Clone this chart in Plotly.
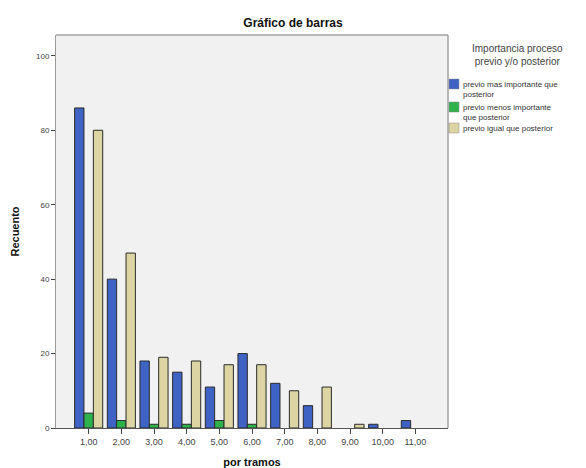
import plotly.graph_objects as go

# Counts per interval ("por tramos") for each category of importance
tramos = [1, 2, 3, 4, 5, 6, 7, 8, 9, 10, 11]
tick_labels = ["1,00", "2,00", "3,00", "4,00", "5,00", "6,00", "7,00", "8,00", "9,00", "10,00", "11,00"]

previo_mas = [86, 40, 18, 15, 11, 20, 12, 6, 0, 1, 2]
previo_menos = [4, 2, 1, 1, 2, 1, 0, 0, 0, 0, 0]
previo_igual = [80, 47, 19, 18, 17, 17, 10, 11, 1, 0, 0]

series_names = [
    "previo mas importante que<br>posterior",
    "previo menos importante<br>que posterior",
    "previo igual que posterior",
]
series_values = [previo_mas, previo_menos, previo_igual]
colors = ["#3F63C4", "#2EB34C", "#DCD5A3"]

fig = go.Figure()
for name, vals, col in zip(series_names, series_values, colors):
    # empty counts get no outline so nothing shows on the baseline
    outline_w = [1 if v > 0 else 0 for v in vals]
    fig.add_trace(go.Bar(
        x=tramos, y=vals, name=name,
        marker=dict(color=col, line=dict(color="#2a2a2a", width=outline_w)),
        showlegend=False,
    ))

L, R, T, B = 56, 138, 35, 40
W, H = 586, 468

fig.update_layout(
    width=W, height=H,
    margin=dict(l=L, r=R, t=T, b=B),
    paper_bgcolor="white",
    plot_bgcolor="#F1F1F1",
    barmode="group",
    bargap=0.14,
    bargroupgap=0,
    font=dict(family="Liberation Sans, Arial, sans-serif", color="#333333", size=9),
    title=dict(
        text="<b>Gráfico de barras</b>",
        x=0.5, xanchor="center", y=1 - 23 / H, yanchor="middle",
        font=dict(size=12, color="#111111"),
    ),
    xaxis=dict(
        range=[0, 12], automargin=False,
        tickmode="array", tickvals=tramos, ticktext=tick_labels,
        ticks="outside", ticklen=5, tickcolor="#444444",
        showgrid=False, zeroline=False,
        showline=True, linecolor="#555555", linewidth=1,
        tickfont=dict(size=9, color="#444444"),
        title=dict(text="<b>por tramos</b>", font=dict(size=11, color="#111111"), standoff=12),
    ),
    yaxis=dict(
        range=[0, 105.6], automargin=False,
        tickmode="array", tickvals=[0, 20, 40, 60, 80, 100],
        ticks="outside", ticklen=4, tickcolor="#444444",
        showgrid=False, zeroline=False,
        showline=True, linecolor="#9a9a9a", linewidth=1,
        tickfont=dict(size=8, color="#444444"),
        title=dict(text="<b>Recuento</b>", font=dict(size=11, color="#111111"), standoff=14),
    ),
)

# Top and right frame of the plotting area
fig.add_shape(type="line", xref="paper", yref="paper", x0=0, x1=1, y0=1, y1=1,
              line=dict(color="#a0a0a0", width=1.5))
fig.add_shape(type="line", xref="paper", yref="paper", x0=1, x1=1, y0=0, y1=1,
              line=dict(color="#a0a0a0", width=1.5))

# Legend drawn by hand: title, swatches and wrapped labels
pw = W - L - R
ph = H - T - B
def px_x(px):
    return (px - L) / pw
def px_y(py):
    return (H - B - py) / ph

fig.add_annotation(
    xref="paper", yref="paper", x=px_x(517), y=px_y(55),
    text="Importancia proceso<br>previo y/o posterior",
    showarrow=False, xanchor="center", yanchor="middle",
    font=dict(size=10, color="#444444"), align="center",
)
item_y = [84, 107, 128]
for name, col, yy in zip(series_names, colors, item_y):
    fig.add_shape(type="rect", xref="paper", yref="paper",
                  x0=px_x(449), x1=px_x(459), y0=px_y(yy + 5), y1=px_y(yy - 5),
                  fillcolor=col, line=dict(color="#888888", width=0.5))
    fig.add_annotation(
        xref="paper", yref="paper", x=px_x(461), y=px_y(yy - 6),
        text=name, showarrow=False, xanchor="left", yanchor="top",
        font=dict(size=8, color="#333333"), align="left",
    )

fig.write_html("out.html")
